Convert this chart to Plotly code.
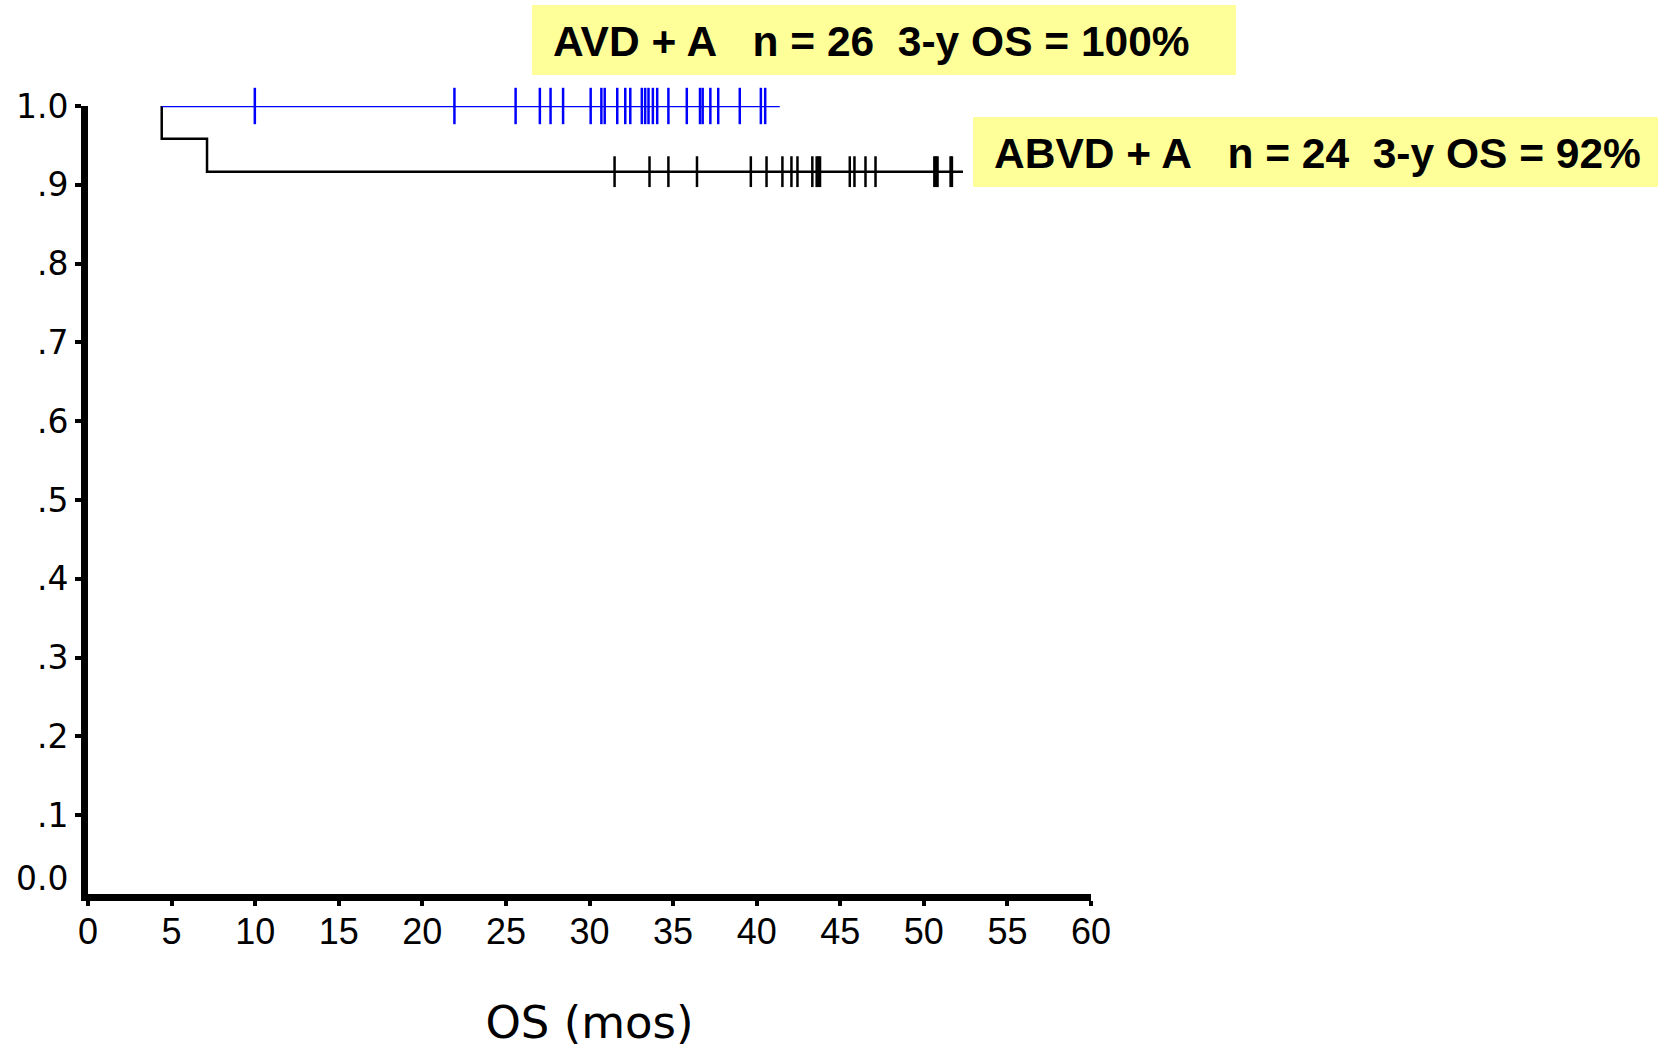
import plotly.graph_objects as go

# ---- data ----
start_time = 4.41
n_black = 24
black_event_times = [4.41, 7.12]
black_end = 52.34
black_censor_times = [31.50, 33.59, 34.72, 36.43, 39.65, 40.59, 41.54, 42.08, 42.44,
                      43.33, 43.59, 43.69, 43.79, 45.57, 45.85, 46.51, 47.11,
                      50.63, 50.72, 50.82, 51.60, 51.68]
n_blue = 26
blue_end = 41.38
blue_censor_times = [9.98, 21.92, 25.58, 27.03, 27.67, 28.42, 30.07, 30.71, 30.91,
                     31.66, 32.14, 32.44, 33.13, 33.33, 33.53, 33.79, 34.05, 34.72,
                     35.82, 36.61, 36.77, 37.23, 37.70, 38.99, 40.25, 40.51]
y_tickvals = [0.1, 0.2, 0.3, 0.4, 0.5, 0.6, 0.7, 0.8, 0.9, 1.0]
y_ticktext = [".1", ".2", ".3", ".4", ".5", ".6", ".7", ".8", ".9", "1.0"]
y_zero_label = "0.0"
x_tickvals = list(range(0, 61, 5))
label_blue = "AVD + A&nbsp;&nbsp; n = 26&nbsp; 3-y OS = 100%"
label_black = "ABVD + A&nbsp;&nbsp; n = 24&nbsp; 3-y OS = 92%"

BLUE = "#0000FF"
BLACK = "#000000"
YELLOW = "#FFFF99"

# Kaplan-Meier step construction
def km_steps(n, events, start, end):
    xs, ys = [start], [1.0]
    at_risk = n
    s = 1.0
    for t in events:
        s = s * (at_risk - 1) / at_risk
        at_risk -= 1
        xs.append(t)
        ys.append(s)
    xs.append(end)
    ys.append(s)
    return xs, ys, s

bx, by, bs = km_steps(n_black, black_event_times, start_time, black_end)
ux, uy, us = km_steps(n_blue, [], start_time, blue_end)

fig = go.Figure()
fig.add_trace(go.Scatter(x=bx, y=by, mode="lines", line=dict(color=BLACK, width=2.5, shape="hv"),
                         cliponaxis=False, showlegend=False))
fig.add_trace(go.Scatter(x=black_censor_times, y=[bs] * len(black_censor_times), mode="markers",
                         marker=dict(symbol="line-ns-open", size=22, color=BLACK,
                                     line=dict(color=BLACK, width=2.5)),
                         cliponaxis=False, showlegend=False))
fig.add_trace(go.Scatter(x=ux, y=uy, mode="lines", line=dict(color=BLUE, width=2.5, shape="hv"),
                         cliponaxis=False, showlegend=False))
fig.add_trace(go.Scatter(x=blue_censor_times, y=[us] * len(blue_censor_times), mode="markers",
                         marker=dict(symbol="line-ns-open", size=26, color=BLUE,
                                     line=dict(color=BLUE, width=2.5)),
                         cliponaxis=False, showlegend=False))

L, R, T, B = 88, 567, 106, 160
fig.update_layout(
    width=1658, height=1054,
    margin=dict(l=L, r=R, t=T, b=B),
    plot_bgcolor="white", paper_bgcolor="white",
    showlegend=False,
)
fig.update_xaxes(
    range=[0, 60], tickmode="array", tickvals=x_tickvals,
    showgrid=False, zeroline=False,
    showline=True, linecolor=BLACK, linewidth=7,
    ticks="outside", ticklen=5, tickwidth=4, tickcolor=BLACK,
    ticklabelstandoff=-5,
    tickfont=dict(family="Liberation Sans, Arial, sans-serif", size=36, color=BLACK),
    title=dict(text="OS (mos)", font=dict(family="DejaVu Sans, Verdana, sans-serif", size=45, color=BLACK),
               standoff=58),
)
fig.update_yaxes(
    range=[0, 1.0], tickmode="array", tickvals=y_tickvals, ticktext=y_ticktext,
    showgrid=False, zeroline=False,
    showline=True, linecolor=BLACK, linewidth=7,
    ticks="outside", ticklen=6, tickwidth=4, tickcolor=BLACK,
    tickfont=dict(family="DejaVu Sans, Verdana, sans-serif", size=33, color=BLACK),
)
# "0.0" label sits slightly above the x-axis line in the reference
fig.add_annotation(xref="paper", yref="y", x=0, y=0, xanchor="right", yanchor="middle",
                   xshift=-18, yshift=16, text=y_zero_label, showarrow=False,
                   font=dict(family="DejaVu Sans, Verdana, sans-serif", size=33, color=BLACK))

# yellow label boxes
pw = 1658 - L - R
ph = 1054 - T - B
def px_x(p):
    return (p - L) / pw
def px_y(p):
    return (1054 - B - p) / ph

fig.add_shape(type="rect", xref="paper", yref="paper",
              x0=px_x(532), x1=px_x(1236), y0=px_y(75), y1=px_y(5),
              fillcolor=YELLOW, line=dict(width=0), layer="below")
fig.add_shape(type="rect", xref="paper", yref="paper",
              x0=px_x(973), x1=px_x(1660), y0=px_y(187), y1=px_y(117),
              fillcolor=YELLOW, line=dict(width=0), layer="below")
fig.add_annotation(xref="paper", yref="paper", x=px_x(551), y=px_y(42), xanchor="left", yanchor="middle",
                   text="<b>" + label_blue + "</b>", showarrow=False,
                   font=dict(family="Liberation Sans, Arial, sans-serif", size=42.5, color=BLACK))
fig.add_annotation(xref="paper", yref="paper", x=px_x(992), y=px_y(153), xanchor="left", yanchor="middle",
                   text="<b>" + label_black + "</b>", showarrow=False,
                   font=dict(family="Liberation Sans, Arial, sans-serif", size=42.5, color=BLACK))

fig.write_html("out.html")
